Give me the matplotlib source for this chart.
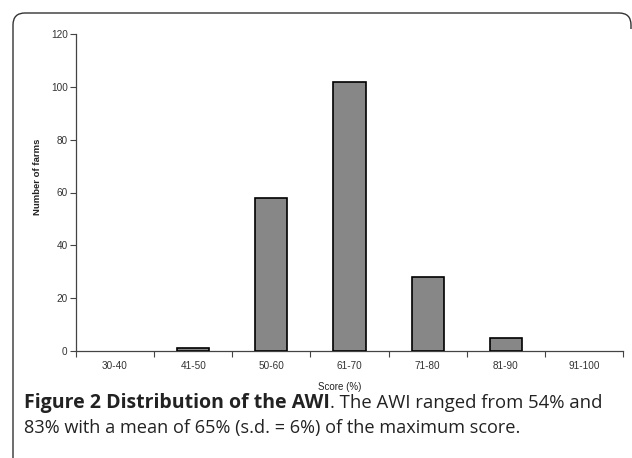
import numpy as np
import matplotlib.pyplot as plt
from matplotlib.path import Path
from matplotlib.patches import PathPatch

# Data
categories = ['30-40', '41-50', '50-60', '61-70', '71-80', '81-90', '91-100']
farms = [0, 1, 58, 102, 28, 5, 0]
y_ticks = [0, 20, 40, 60, 80, 100, 120]

W, H = 632, 458
fig = plt.figure(figsize=(W / 100, H / 100), dpi=100)
ax = fig.add_axes([76 / W, 1 - 351 / H, (623 - 76) / W, (351 - 34) / H])

x = np.arange(len(categories))
# empty classes get no outline
edge_w = [1.2 if v > 0 else 0 for v in farms]
ax.bar(x, farms, width=0.41, color='#878787', edgecolor='black', linewidth=edge_w, zorder=3)

ax.set_xlim(-0.5, len(categories) - 0.5)
ax.set_ylim(0, 120)
ax.set_yticks(y_ticks)
ax.set_yticklabels([str(v) for v in y_ticks], fontsize=7.2, color='#333333', family='Liberation Sans')

# labels centred in each category, ticks on boundaries
ax.set_xticks(x)
ax.set_xticklabels(categories, fontsize=7.2, color='#333333', family='Liberation Sans')
ax.set_xticks(np.arange(len(categories) + 1) - 0.5, minor=True)
ax.tick_params(axis='x', which='major', length=0, pad=7)
ax.tick_params(axis='x', which='minor', length=4, width=0.8, color='#444444', direction='out')
ax.tick_params(axis='y', length=4, width=0.8, color='#444444', pad=2)

for s in ['top', 'right']:
    ax.spines[s].set_visible(False)
for s in ['left', 'bottom']:
    ax.spines[s].set_color('#444444')
    ax.spines[s].set_linewidth(0.9)

ax.set_xlabel('Score (%)', fontsize=7, color='#222222', family='Liberation Sans')
ax.xaxis.set_label_coords((340 - 76) / 547, (351 - 382) / 317)
ax.set_ylabel('Number of farms', fontsize=6.8, fontweight='bold', color='#222222',
              family='Liberation Sans', va='center')
ax.yaxis.set_label_coords((37 - 76) / 547, (351 - 177) / 317)

# rounded panel frame: left side, top, and the start of the top-right corner
def px(xp, yp):
    return (xp / 100, (H - yp) / 100)

r = 12
verts = [px(13, H + 5), px(13, 13 + r), px(13, 13), px(13 + r, 13),
         px(631 - r, 13), px(631, 13), px(631, 13 + r), px(631, 13 + r + 4)]
codes = [Path.MOVETO, Path.LINETO, Path.CURVE3, Path.CURVE3,
         Path.LINETO, Path.CURVE3, Path.CURVE3, Path.LINETO]
frame = PathPatch(Path(verts, codes), transform=fig.dpi_scale_trans, fill=False,
                  edgecolor='#333333', linewidth=1.0, clip_on=False)
fig.patches.append(frame)

# caption
y1 = 1 - 408 / H
y2 = 1 - 433 / H
cap_bold = fig.text(24 / W, y1, 'Figure 2 Distribution of the AWI', fontsize=14,
                    fontweight='bold', family='Open Sans', va='baseline', ha='left', color='#222222')
fig.canvas.draw()
bb = cap_bold.get_window_extent()
fig.text(bb.x1 / fig.bbox.width, y1,
         '. The AWI ranged from 54% and', fontsize=13.3, family='Open Sans',
         va='baseline', ha='left', color='#222222')
fig.text(24 / W, y2,
         '83% with a mean of 65% (s.d. = 6%) of the maximum score.', fontsize=13.1,
         family='Open Sans', va='baseline', ha='left', color='#222222')

fig.savefig('out.png', dpi=100)
